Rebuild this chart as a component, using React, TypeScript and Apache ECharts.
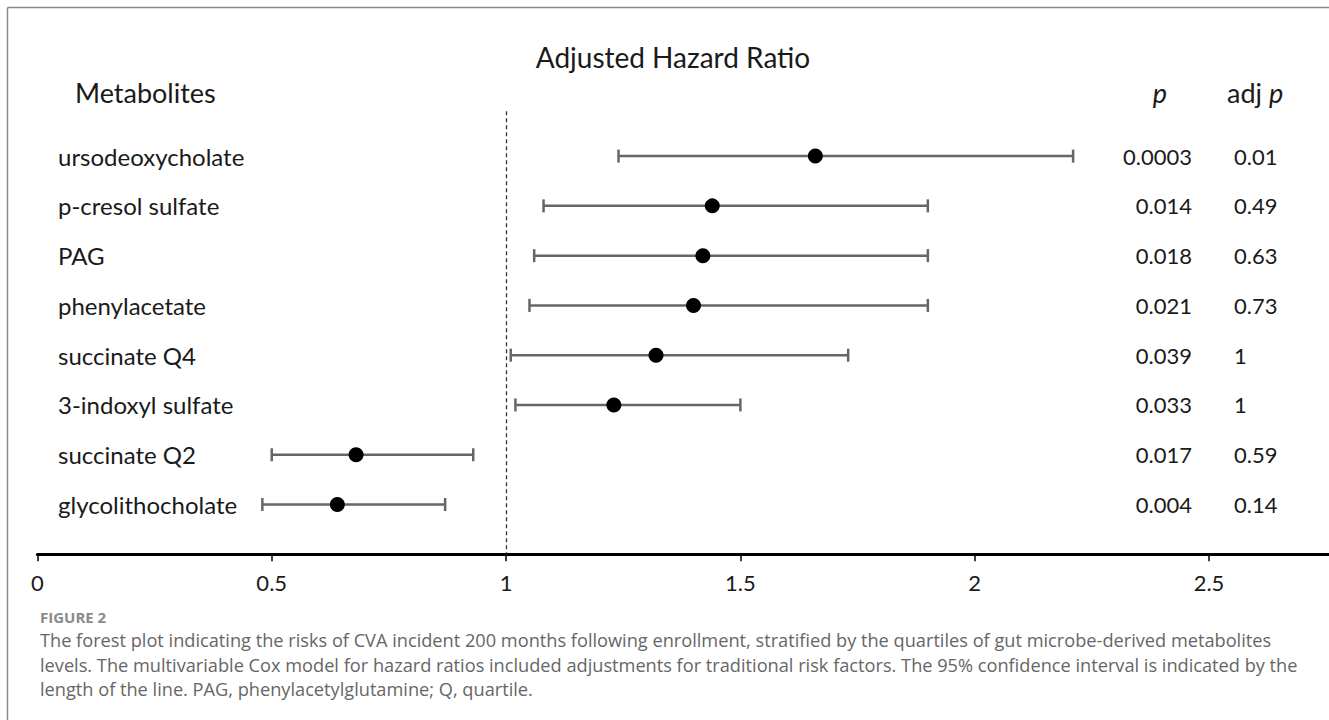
import React, { useEffect, useRef } from "react";
import * as echarts from "echarts";

const metabolites = [
  "ursodeoxycholate",
  "p-cresol sulfate",
  "PAG",
  "phenylacetate",
  "succinate Q4",
  "3-indoxyl sulfate",
  "succinate Q2",
  "glycolithocholate",
];
const hazardRatio = [1.66, 1.44, 1.42, 1.4, 1.32, 1.23, 0.68, 0.64];
const ciLow = [1.24, 1.08, 1.06, 1.05, 1.01, 1.02, 0.5, 0.48];
const ciHigh = [2.21, 1.9, 1.9, 1.9, 1.73, 1.5, 0.93, 0.87];
const pValues = ["0.0003", "0.014", "0.018", "0.021", "0.039", "0.033", "0.017", "0.004"];
const adjPValues = ["0.01", "0.49", "0.63", "0.73", "1", "1", "0.59", "0.14"];
const xTicks = [0, 0.5, 1, 1.5, 2, 2.5];

const captionLabel = "FIGURE 2";
const captionLines = [
  "The forest plot indicating the risks of CVA incident 200 months following enrollment, stratified by the quartiles of gut microbe-derived metabolites",
  "levels. The multivariable Cox model for hazard ratios included adjustments for traditional risk factors. The 95% confidence interval is indicated by the",
  "length of the line. PAG, phenylacetylglutamine; Q, quartile.",
];

const FONT = "Lato, 'Noto Sans', sans-serif";
const CAP_FONT = "'Open Sans', 'Noto Sans', sans-serif";

export default function App() {
  const ref = useRef<HTMLDivElement>(null);

  useEffect(() => {
    if (!ref.current) return;
    const chart = echarts.init(ref.current, undefined, { renderer: "svg" });

    const rows = metabolites.map((_, i) => i);

    const textColumn = (
      values: string[],
      x: number,
      align: "left" | "right",
      fontSize: number
    ) => ({
      type: "custom",
      silent: true,
      clip: false,
      data: values.map((v, i) => [0, i, v]),
      encode: { x: 0, y: 1 },
      renderItem: (params: any, api: any) => {
        const idx = params.dataIndex;
        const y = api.coord([0, idx])[1];
        return {
          type: "text",
          style: {
            text: values[idx],
            x,
            y,
            align,
            verticalAlign: "middle",
            fontFamily: FONT,
            fontSize,
            fill: "#1a1a1a",
          },
        };
      },
    });

    chart.setOption({
      animation: false,
      backgroundColor: "#ffffff",
      grid: { left: 37.4, right: 0, top: 111.3, bottom: 165.7, containLabel: false },
      xAxis: {
        type: "value",
        position: "bottom",
        min: 0,
        max: 2.756,
        interval: 0.5,
        splitLine: { show: false },
        axisLine: { show: true, onZero: false, lineStyle: { color: "#000", width: 3 } },
        axisTick: {
          show: true,
          length: 7,
          lineStyle: { color: "#000", width: 1.5 },
          customValues: xTicks,
        },
        axisLabel: {
          customValues: xTicks,
          fontFamily: FONT,
          fontSize: 22,
          color: "#1a1a1a",
          margin: 17,
          formatter: (v: number) => String(v),
        },
      },
      yAxis: {
        type: "value",
        inverse: true,
        min: -0.9,
        max: 8,
        show: false,
      },
      series: [
        {
          type: "custom",
          silent: true,
          clip: false,
          data: rows.map((i) => [i, ciLow[i], ciHigh[i]]),
          encode: { x: [1, 2], y: 0 },
          renderItem: (params: any, api: any) => {
            const i = api.value(0);
            const p1 = api.coord([api.value(1), i]);
            const p2 = api.coord([api.value(2), i]);
            const h = 6.5;
            const style = { stroke: "#666666", lineWidth: 2.5 };
            return {
              type: "group",
              children: [
                { type: "line", shape: { x1: p1[0], y1: p1[1], x2: p2[0], y2: p2[1] }, style },
                { type: "line", shape: { x1: p1[0], y1: p1[1] - h, x2: p1[0], y2: p1[1] + h }, style },
                { type: "line", shape: { x1: p2[0], y1: p2[1] - h, x2: p2[0], y2: p2[1] + h }, style },
              ],
            };
          },
        },
        {
          type: "scatter",
          silent: true,
          symbol: "circle",
          symbolSize: 15,
          itemStyle: { color: "#000", opacity: 1 },
          data: rows.map((i) => [hazardRatio[i], i]),
          markLine: {
            silent: true,
            symbol: "none",
            label: { show: false },
            lineStyle: { color: "#333", width: 1.3, type: [4, 3] },
            data: [{ xAxis: 1 }],
          },
          z: 3,
        },
        textColumn(metabolites, 58, "left", 24),
        textColumn(pValues, 1192, "right", 22),
        textColumn(adjPValues, 1234, "left", 22),
      ],
      graphic: [
        { type: "line", silent: true, shape: { x1: 7.5, y1: 7.5, x2: 1329, y2: 7.5 }, style: { stroke: "#8a8a8a", lineWidth: 1.5 } },
        { type: "line", silent: true, shape: { x1: 7.5, y1: 7.5, x2: 7.5, y2: 720 }, style: { stroke: "#8a8a8a", lineWidth: 1.5 } },
        {
          type: "text",
          silent: true,
          style: {
            text: "Adjusted Hazard Ratio",
            x: 673,
            y: 57,
            align: "center",
            verticalAlign: "middle",
            fontFamily: FONT,
            fontSize: 28,
            fill: "#1a1a1a",
          },
        },
        {
          type: "text",
          silent: true,
          style: {
            text: "Metabolites",
            x: 75,
            y: 92,
            align: "left",
            verticalAlign: "middle",
            fontFamily: FONT,
            fontSize: 27,
            fill: "#1a1a1a",
          },
        },
        {
          type: "text",
          silent: true,
          style: {
            text: "p",
            x: 1160,
            y: 92,
            align: "center",
            verticalAlign: "middle",
            fontFamily: FONT,
            fontStyle: "italic",
            fontSize: 27,
            fill: "#1a1a1a",
          },
        },
        {
          type: "text",
          silent: true,
          style: {
            text: "{n|adj }{i|p}",
            x: 1227,
            y: 92,
            align: "left",
            verticalAlign: "middle",
            rich: {
              n: { fontFamily: FONT, fontSize: 27, fill: "#1a1a1a", color: "#1a1a1a" },
              i: { fontFamily: FONT, fontSize: 27, fontStyle: "italic", fill: "#1a1a1a", color: "#1a1a1a" },
            },
          },
        },
        {
          type: "text",
          silent: true,
          style: {
            text: captionLabel,
            x: 40,
            y: 617,
            align: "left",
            verticalAlign: "middle",
            fontFamily: CAP_FONT,
            fontSize: 15,
            fontWeight: "bold",
            fill: "#8a8a8a",
          },
        },
        ...captionLines.map((line, k) => ({
          type: "text",
          silent: true,
          style: {
            text: line,
            x: 40,
            y: 640 + k * 24.5,
            align: "left",
            verticalAlign: "middle",
            fontFamily: CAP_FONT,
            fontSize: 18.2,
            fill: "#666666",
          },
        })),
      ],
    });

    return () => chart.dispose();
  }, []);

  return (
    <div
      ref={ref}
      style={{ position: "fixed", left: 0, top: 0, width: 1329, height: 720, background: "#fff" }}
    />
  );
}
